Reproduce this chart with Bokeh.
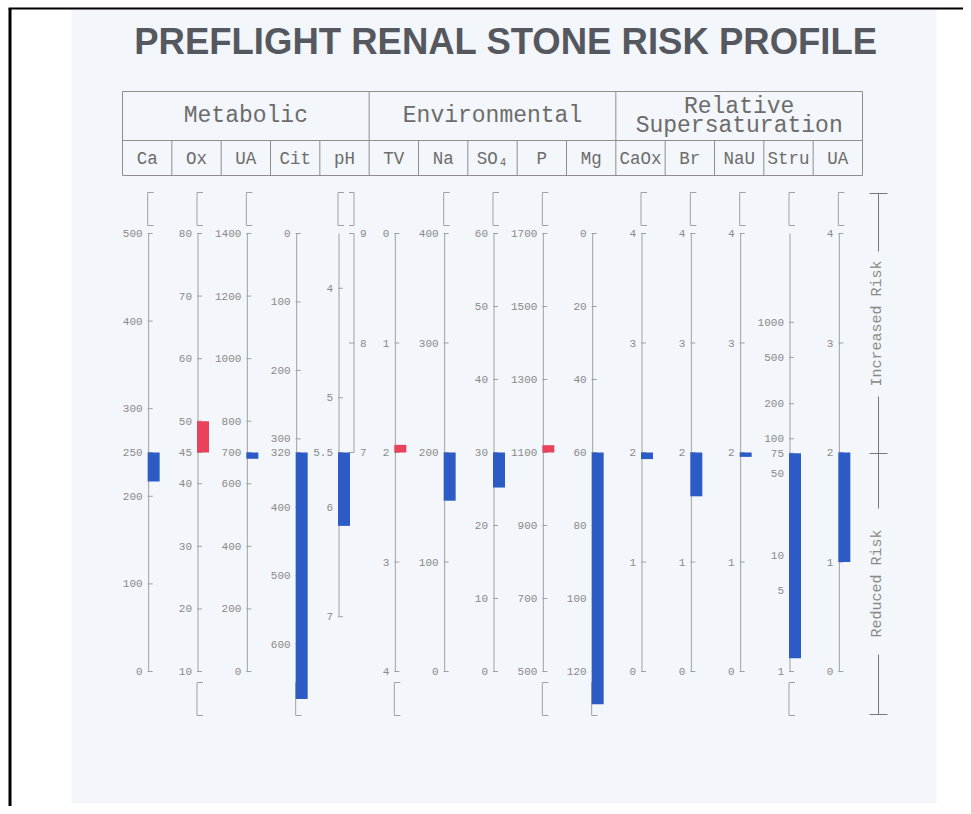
import math
from bokeh.plotting import figure
from bokeh.models import Range1d, LogScale
from bokeh.embed import file_html
from bokeh.resources import INLINE
from bokeh.core.properties import value

# ---------------- data ----------------
title_text = "PREFLIGHT RENAL STONE RISK PROFILE"
group_labels = [["Metabolic"], ["Environmental"], ["Relative", "Supersaturation"]]
column_labels = ["Ca", "Ox", "UA", "Cit", "pH", "TV", "Na", "SO\u2084", "P", "Mg",
                 "CaOx", "Br", "NaU", "Stru", "UA"]
normal_values = [250, 45, 700, 320, 5.5, 2, 200, 30, 1100, 60, 2, 2, 2, 75, 2]
measured_values = [217, 50, 680, 680, 6.17, 1.93, 156, 25.2, 1120, 129,
                   1.94, 1.6, 1.96, 1.3, 1.0]
# value at the top / bottom end of each column's scale
scale_top_values = [500, 80, 1400, 0, 3.5, 0, 400, 60, 1700, 0, 4, 4, 4, 5800, 4]
scale_bottom_values = [0, 10, 0, 640, 7.5, 4, 0, 0, 500, 120, 0, 0, 0, 1, 0]
axis_end_values = [0, 10, 0, 640, 7, 4, 0, 0, 500, 120, 0, 0, 0, 1, 0]
log_scale_columns = [13]
tick_values = [
    [500, 400, 300, 250, 200, 100, 0],
    [80, 70, 60, 50, 45, 40, 30, 20, 10],
    [1400, 1200, 1000, 800, 700, 600, 400, 200, 0],
    [0, 100, 200, 300, 320, 400, 500, 600],
    [4, 5, 5.5, 6, 7],
    [0, 1, 2, 3, 4],
    [400, 300, 200, 100, 0],
    [60, 50, 40, 30, 20, 10, 0],
    [1700, 1500, 1300, 1100, 900, 700, 500],
    [0, 20, 40, 60, 80, 100, 120],
    [4, 3, 2, 1, 0],
    [4, 3, 2, 1, 0],
    [4, 3, 2, 1, 0],
    [1000, 500, 200, 100, 75, 50, 10, 5, 1],
    [4, 3, 2, 1, 0],
]
ph_right_ticks = [9, 8, 7]
ph_right_scale = (9, 5)
top_bracket_columns = [0, 1, 2, 4, 6, 7, 8, 10, 11, 12, 13, 14]
bottom_bracket_columns = [1, 3, 5, 8, 9, 13]
risk_labels = ["Increased Risk", "Reduced Risk"]

# ---------------- layout / style ----------------
W, H = 963, 806
TABLE_L, TABLE_R = 122, 862
TABLE_T, TABLE_M, TABLE_B = 91, 140, 175
AX_T, AX_B = 233, 671
CW = (TABLE_R - TABLE_L) / len(column_labels)

RED = "#e8425c"
BLUE = "#2c5bc6"
LINE = "#a0a0a0"
TABLE_LINE = "#8e8e8e"
TICK_TXT = "#8a8a8a"
HDR_TXT = "#6c6c6c"
MONO = value("Liberation Mono")

p = figure(width=W, height=H, x_range=Range1d(0, W), y_range=Range1d(H, 0),
           output_backend="svg", toolbar_location=None, x_axis_type=None,
           y_axis_type=None, min_border=0)
p.outline_line_color = None
p.background_fill_color = "white"
p.border_fill_color = "white"

# scanned page background and frame
p.quad(left=71, right=936, top=9, bottom=803, fill_color="#f3f6fa", line_color=None)
p.segment(x0=8, y0=8, x1=W, y1=8, line_color="black", line_width=2)
p.segment(x0=9.5, y0=8, x1=9.5, y1=H, line_color="black", line_width=3)

# title
p.text(x=[(133 + 878) / 2], y=[41], text=[title_text], text_align="center",
       text_baseline="middle", text_font=value("Liberation Sans"),
       text_font_style="bold", text_font_size="36.5px", text_color="#55585e")

# header table
n = len(column_labels)
bounds = [TABLE_L + k * CW for k in range(n + 1)]
p.multi_line(xs=[[TABLE_L, TABLE_R]] * 3, ys=[[y, y] for y in (TABLE_T, TABLE_M, TABLE_B)],
             line_color=TABLE_LINE, line_width=1)
full = [bounds[k] for k in (0, 5, 10, 15)]
p.multi_line(xs=[[x, x] for x in full], ys=[[TABLE_T, TABLE_B]] * len(full),
             line_color=TABLE_LINE, line_width=1)
part = [bounds[k] for k in range(1, n) if k % 5 != 0]
p.multi_line(xs=[[x, x] for x in part], ys=[[TABLE_M, TABLE_B]] * len(part),
             line_color=TABLE_LINE, line_width=1)
for g, lines in enumerate(group_labels):
    cx = (bounds[g * 5] + bounds[g * 5 + 5]) / 2
    ys = [115.5] if len(lines) == 1 else [106.5, 125.5]
    p.text(x=[cx] * len(lines), y=ys, text=lines, text_align="center",
           text_baseline="middle", text_font=MONO, text_font_size="23px",
           text_color=HDR_TXT)
p.text(x=[(bounds[k] + bounds[k + 1]) / 2 for k in range(n)], y=[158] * n,
       text=column_labels, text_align="center", text_baseline="middle",
       text_font=MONO, text_font_size="17.5px", text_color=HDR_TXT)


def fmt(v):
    return "%g" % v


def make_range(vt, vb, is_log):
    if is_log:
        vt, vb = math.log10(vt), math.log10(vb)
    slope = (vb - vt) / (AX_B - AX_T)
    start = vt + (H - AX_T) * slope
    end = vt + (0 - AX_T) * slope
    if is_log:
        start, end = 10 ** start, 10 ** end
    return Range1d(start=start, end=end)


ranges, scales = {}, {}
for i in range(n):
    ranges[f"c{i}"] = make_range(scale_top_values[i], scale_bottom_values[i],
                                 i in log_scale_columns)
    if i in log_scale_columns:
        scales[f"c{i}"] = LogScale()
ranges["ph_r"] = make_range(ph_right_scale[0], ph_right_scale[1], False)
p.extra_y_ranges = ranges
p.extra_y_scales = scales

axis_x = []
for i in range(n):
    c = (bounds[i] + bounds[i + 1]) / 2
    axis_x.append(c - 5.5 if i == 4 else c + 1.5)
ph_right_x = (bounds[4] + bounds[5]) / 2 + 9.5

# brackets
for i in top_bracket_columns:
    ax = axis_x[i]
    p.line(x=[ax + 5, ax - 1, ax - 1, ax + 5], y=[192, 192, 225, 225],
           line_color=LINE, line_width=1)
    if i == 4:
        p.line(x=[ph_right_x - 5, ph_right_x, ph_right_x, ph_right_x - 5],
               y=[192, 192, 225, 225], line_color=LINE, line_width=1)
for i in bottom_bracket_columns:
    ax = axis_x[i]
    p.line(x=[ax + 5, ax - 1, ax - 1, ax + 5], y=[682, 682, 715, 715],
           line_color=LINE, line_width=1)

# column axes, ticks, labels
for i in range(n):
    name = f"c{i}"
    ax = axis_x[i]
    ticks = tick_values[i]
    p.segment(x0=ax, y0=scale_top_values[i], x1=ax, y1=axis_end_values[i],
              line_color=LINE, line_width=1, y_range_name=name)
    p.segment(x0=[ax - 1] * len(ticks), x1=[ax + 4] * len(ticks), y0=ticks, y1=ticks,
              line_color=LINE, line_width=1, y_range_name=name)
    p.text(x=[ax - 6] * len(ticks), y=ticks, text=[fmt(t) for t in ticks],
           text_align="right", text_baseline="middle", text_font=MONO,
           text_font_size="11px", text_color=TICK_TXT, y_range_name=name)

# pH right-hand scale
p.segment(x0=ph_right_x, y0=ph_right_ticks[0], x1=ph_right_x, y1=ph_right_ticks[-1],
          line_color=LINE, line_width=1, y_range_name="ph_r")
p.segment(x0=[ph_right_x - 5] * 3, x1=[ph_right_x] * 3, y0=ph_right_ticks,
          y1=ph_right_ticks, line_color=LINE, line_width=1, y_range_name="ph_r")
p.text(x=[ph_right_x + 6] * 3, y=ph_right_ticks, text=[fmt(t) for t in ph_right_ticks],
       text_align="left", text_baseline="middle", text_font=MONO,
       text_font_size="11px", text_color=TICK_TXT, y_range_name="ph_r")

# bars: from the normal value to the measured value
for i in range(n):
    name = f"c{i}"
    ax = axis_x[i]
    v, m = measured_values[i], normal_values[i]
    up = (v - m) * (scale_top_values[i] - scale_bottom_values[i]) > 0
    p.quad(left=ax - 1, right=ax + 11, top=max(v, m), bottom=min(v, m),
           fill_color=RED if up else BLUE, line_color=None, y_range_name=name)

# risk indicator
RX = 878
RMID = (AX_T + AX_B) / 2 + 1
p.multi_line(xs=[[RX, RX], [RX, RX], [RX, RX]],
             ys=[[193, 251], [396, 508], [654, 714]],
             line_color="#777777", line_width=1)
p.multi_line(xs=[[RX - 9, RX + 9]] * 3, ys=[[193, 193], [RMID, RMID], [714, 714]],
             line_color="#777777", line_width=1)
p.text(x=[RX - 1, RX - 1], y=[323, 583], text=risk_labels, angle=math.pi / 2,
       text_align="center", text_baseline="middle", text_font=MONO,
       text_font_size="15px", text_color="#8a8a8a")

open("out.html", "w").write(file_html(p, INLINE))
